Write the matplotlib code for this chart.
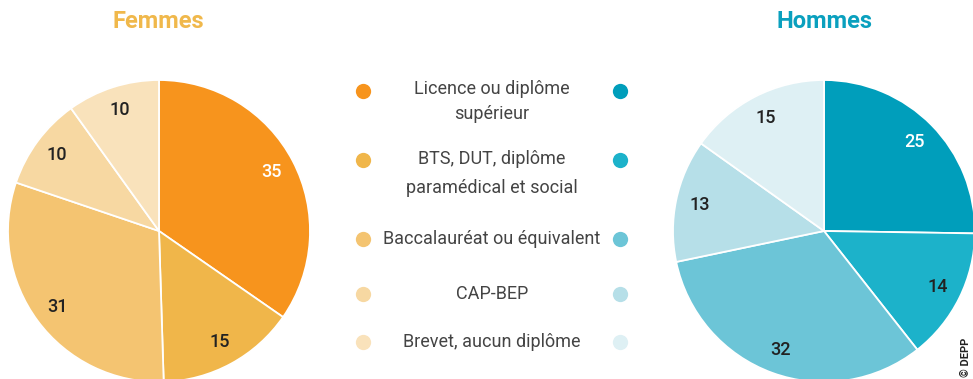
import matplotlib.pyplot as plt

plt.rcParams['font.family'] = ['Roboto', 'DejaVu Sans']

# Data (%)
categories = [
    "Licence ou diplôme\nsupérieur",
    "BTS, DUT, diplôme\nparamédical et social",
    "Baccalauréat ou équivalent",
    "CAP-BEP",
    "Brevet, aucun diplôme",
]
femmes = [35, 15, 31, 10, 10]
hommes = [25, 14, 32, 13, 15]

colors_f = ["#F7941D", "#F0B64A", "#F4C471", "#F7D8A2", "#F9E2BB"]
colors_h = ["#009EBB", "#1CB2CA", "#6CC5D7", "#B6DFE8", "#DEF0F4"]
label_colors_f = ["white", "#222222", "#222222", "#222222", "#222222"]
label_colors_h = ["white", "#222222", "#222222", "#222222", "#222222"]

W, H = 973, 379
fig = plt.figure(figsize=(W / 100, H / 100), dpi=100)
fig.patch.set_facecolor("white")


def pie_axes(cx, cy, r):
    # cx, cy in pixels from top-left
    return fig.add_axes([(cx - r) / W, (H - cy - r) / H, 2 * r / W, 2 * r / H])


def draw_pie(ax, values, colors, label_colors):
    wedges, texts = ax.pie(
        values, colors=colors, startangle=90, counterclock=False,
        labels=[str(v) for v in values], labeldistance=0.84,
        wedgeprops=dict(edgecolor="white", linewidth=1.3),
        textprops=dict(fontsize=13, fontweight="medium"),
    )
    for t, c in zip(texts, label_colors):
        t.set_color(c)
        t.set_ha("center")
        t.set_va("center")
    ax.set_xlim(-1, 1)
    ax.set_ylim(-1, 1)
    ax.set_aspect("equal")
    ax.axis("off")


ax_f = pie_axes(159, 231, 151)
draw_pie(ax_f, femmes, colors_f, label_colors_f)
ax_h = pie_axes(824, 231, 151)
draw_pie(ax_h, hommes, colors_h, label_colors_h)

fig.text(158 / W, 1 - 22 / H, "Femmes", color="#F0B84B", fontsize=17,
         fontweight="bold", ha="center", va="center")
fig.text(824 / W, 1 - 22 / H, "Hommes", color="#0AA0BE", fontsize=17,
         fontweight="bold", ha="center", va="center")

# legend
lg = fig.add_axes([0, 0, 1, 1])
lg.set_xlim(0, W)
lg.set_ylim(H, 0)
lg.axis("off")
dot_y = [91, 160, 239, 294, 342]
text_y = [101.5, 173.5, 239, 294, 342]
line_gap = [1.45, 1.72, 1.2, 1.2, 1.2]
for i, cat in enumerate(categories):
    lg.plot(363, dot_y[i], "o", ms=11, color=colors_f[i], mec="none")
    lg.plot(620, dot_y[i], "o", ms=11, color=colors_h[i], mec="none")
    lg.text(492, text_y[i], cat, ha="center", va="center", fontsize=13,
            color="#444444", linespacing=line_gap[i])

fig.text(966 / W, 1 - 357 / H, "© DEPP", rotation=90, fontsize=8,
         fontweight="bold", color="#222222", ha="center", va="center")

fig.savefig("out.png", dpi=100, facecolor="white")
